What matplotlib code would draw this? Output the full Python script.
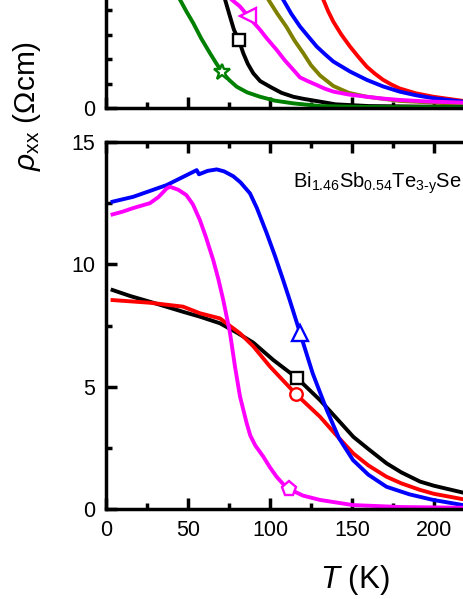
import matplotlib
matplotlib.use("Agg")
import matplotlib.pyplot as plt
from matplotlib.ticker import MultipleLocator, FuncFormatter

plt.rcParams["font.family"] = ["Liberation Sans", "DejaVu Sans"]
plt.rcParams["mathtext.fontset"] = "custom"
plt.rcParams["mathtext.rm"] = "Liberation Sans"
plt.rcParams["mathtext.it"] = "Liberation Sans:italic"
plt.rcParams["mathtext.bf"] = "Liberation Sans:bold"

### top panel data (T in K, rho in Ohm cm) ###
t_red_top = [126, 132.5, 135.5, 138.6, 143.5, 148.8, 154, 159, 164, 169, 174, 179, 189, 199.6, 217.7, 250, 300]
r_red_top = [5.4, 4.43, 3.95, 3.53, 3.0, 2.51, 2.08, 1.69, 1.4, 1.15, 0.96, 0.8, 0.6, 0.46, 0.29, 0.16, 0.1]
t_blue_top = [100, 108, 113, 118.3, 123, 128.5, 133.5, 138.6, 148.8, 159, 169, 179, 189, 199.6, 217.7, 250, 300]
r_blue_top = [5.3, 4.43, 3.85, 3.33, 2.95, 2.51, 2.2, 1.9, 1.49, 1.15, 0.88, 0.67, 0.52, 0.4, 0.26, 0.15, 0.1]
t_olive_top = [90, 99, 104.5, 110, 115, 120.3, 125, 130.5, 138.6, 148, 159, 179, 217.7, 250, 300]
r_olive_top = [5.3, 4.43, 3.85, 3.32, 2.75, 2.24, 1.75, 1.33, 0.9, 0.62, 0.46, 0.29, 0.16, 0.1, 0.07]
t_mag_top = [70, 76.6, 81.7, 86.8, 93.9, 98, 104, 109, 114.2, 118.3, 123, 128.5, 133, 138.6, 148, 159, 168, 179, 195, 217.7, 250, 300]
r_mag_top = [4.9, 4.43, 4.15, 3.74, 3.2, 2.85, 2.38, 1.95, 1.56, 1.25, 1.1, 0.94, 0.8, 0.67, 0.55, 0.46, 0.39, 0.33, 0.27, 0.22, 0.15, 0.1]
t_black_top = [70, 72.6, 75.6, 78, 81.1, 83.7, 86.5, 89.8, 94, 100, 107, 114.2, 120, 130.5, 140, 160, 220, 300]
r_black_top = [5.0, 4.43, 3.74, 3.2, 2.76, 2.24, 1.8, 1.42, 1.1, 0.87, 0.62, 0.46, 0.38, 0.26, 0.15, 0.08, 0.04, 0.03]
t_green_top = [38, 41, 45.1, 49, 53.2, 58, 63.4, 67, 70.5, 75, 79.7, 86, 93.9, 103, 114.2, 130.5, 160, 220, 300]
r_green_top = [5.3, 4.9, 4.43, 3.95, 3.47, 2.85, 2.24, 1.85, 1.49, 1.15, 0.87, 0.64, 0.46, 0.3, 0.19, 0.08, 0.04, 0.03, 0.03]

### bottom panel data ###
t_black = [4, 15, 26.8, 47, 57.3, 69.5, 80, 89.8, 102, 116.7, 130.5, 140, 150.8, 160, 171, 180, 191.5, 200, 217.7, 250, 300]
r_black = [8.95, 8.7, 8.47, 8.06, 7.86, 7.59, 7.2, 6.8, 6.09, 5.34, 4.45, 3.75, 2.95, 2.45, 1.87, 1.5, 1.12, 0.95, 0.67, 0.35, 0.15]
t_red = [4, 26.8, 47, 57.3, 69.5, 81.7, 89.8, 100, 115.9, 130.5, 140, 150.8, 160, 171, 180, 191.5, 200, 217.7, 250, 300]
r_red = [8.54, 8.43, 8.27, 8.0, 7.79, 7.18, 6.65, 5.82, 4.69, 3.77, 3.05, 2.27, 1.78, 1.32, 1.05, 0.78, 0.62, 0.4, 0.2, 0.1]
t_blue = [4, 16.6, 37, 55.3, 56.7, 62, 67.5, 72, 77.6, 82, 87.8, 92, 98, 103, 108, 112, 118.3, 126, 134.6, 142, 150.6, 160, 171, 185, 199.5, 217.7, 250, 300]
r_blue = [12.56, 12.76, 13.24, 13.85, 13.68, 13.82, 13.88, 13.8, 13.6, 13.35, 12.9, 12.3, 11.27, 10.35, 9.36, 8.54, 7.2, 5.55, 4.05, 2.9, 2.0, 1.4, 0.91, 0.6, 0.37, 0.16, 0.08, 0.05]
t_mag = [4, 10, 16.6, 26.8, 32, 37, 39, 44, 49, 53, 57.3, 61, 65.4, 68.5, 71.5, 75.6, 78.7, 81.7, 85.8, 88, 91, 95.9, 100, 104, 108, 111.6, 120, 130.5, 150.6, 180, 220, 300]
r_mag = [12.04, 12.15, 12.3, 12.5, 12.75, 13.1, 13.17, 13.05, 12.83, 12.45, 11.8, 11.1, 10.17, 9.4, 8.54, 7.2, 5.8, 4.6, 3.5, 3.0, 2.6, 2.14, 1.7, 1.32, 1.02, 0.82, 0.55, 0.37, 0.16, 0.08, 0.05, 0.03]

### marker points ###
mk_top = [(81.1, 2.76, "k", "s", 8), (86.8, 3.74, "#FF00FF", "<", 12), (70.5, 1.49, "#008000", "*", 12)]
mk_bot = [(116.7, 5.34, "k", "s", 8), (115.9, 4.69, "#FF0000", "o", 9),
          (118.3, 7.2, "#0000FF", "^", 12), (111.6, 0.82, "#FF00FF", "p", 11)]

W, H = 463, 599
fig = plt.figure(figsize=(W / 100, H / 100), dpi=100)

x0 = 106          # pixel of T = 0
px_per_K = 1.64
y_bot0, y_bot15 = 509, 142
ax_w = 300 * px_per_K / W
ax_h = (y_bot0 - y_bot15) / H

ax_bot = fig.add_axes([x0 / W, (H - y_bot0) / H, ax_w, ax_h])
ax_top = fig.add_axes([x0 / W, (H - 108) / H, ax_w, ax_h])

lw = 2.8
for t, r, c in [(t_red_top, r_red_top, "#FF0000"), (t_blue_top, r_blue_top, "#0000FF"),
                (t_olive_top, r_olive_top, "#808000"), (t_mag_top, r_mag_top, "#FF00FF"),
                (t_black_top, r_black_top, "k"), (t_green_top, r_green_top, "#008000")]:
    ax_top.plot(t, r, color=c, lw=lw, solid_joinstyle="round")
for t, r, c in [(t_black, r_black, "k"), (t_red, r_red, "#FF0000"),
                (t_blue, r_blue, "#0000FF"), (t_mag, r_mag, "#FF00FF")]:
    ax_bot.plot(t, r, color=c, lw=lw, solid_joinstyle="round")

for ax, mks in [(ax_top, mk_top), (ax_bot, mk_bot)]:
    for t, r, c, m, s in mks:
        ax.plot([t], [r], marker=m, ms=s, mfc="white", mec=c, mew=1.7, zorder=5)

for ax in (ax_top, ax_bot):
    ax.set_xlim(0, 300)
    ax.set_ylim(0, 15)
    ax.xaxis.set_major_locator(MultipleLocator(50))
    ax.xaxis.set_minor_locator(MultipleLocator(25))
    for s in ax.spines.values():
        s.set_linewidth(2.5)
    ax.tick_params(which="both", direction="in", top=True, right=True, width=2.5,
                   labelsize=15.5, pad=8)
    ax.tick_params(which="major", length=8)
    ax.tick_params(which="minor", length=4.5)

# only labels that fall inside the picture
ax_top.yaxis.set_major_locator(MultipleLocator(5))
ax_top.yaxis.set_minor_locator(MultipleLocator(1))
ax_top.yaxis.set_major_formatter(FuncFormatter(lambda v, p: "0" if v == 0 else ""))
ax_top.tick_params(labelbottom=False)
ax_bot.yaxis.set_major_locator(MultipleLocator(5))
ax_bot.yaxis.set_minor_locator(MultipleLocator(2.5))
ax_bot.xaxis.set_major_formatter(FuncFormatter(lambda v, p: f"{v:.0f}" if v <= 200 else ""))

fig.text(293 / W, (H - 188) / H,
         r"Bi$_{1.46}$Sb$_{0.54}$Te$_{\mathrm{3\text{-}y}}$Se",
         fontsize=14.5, va="baseline", ha="left")
fig.text(355 / W, (H - 588) / H, r"$T$ (K)", fontsize=22.5, ha="center", va="baseline")
fig.text(27 / W, (H - 106) / H, r"$\rho_{\mathrm{xx}}$ ($\Omega$cm)", fontsize=21.5,
         rotation=90, ha="center", va="center")

fig.savefig("out.png", dpi=100)
